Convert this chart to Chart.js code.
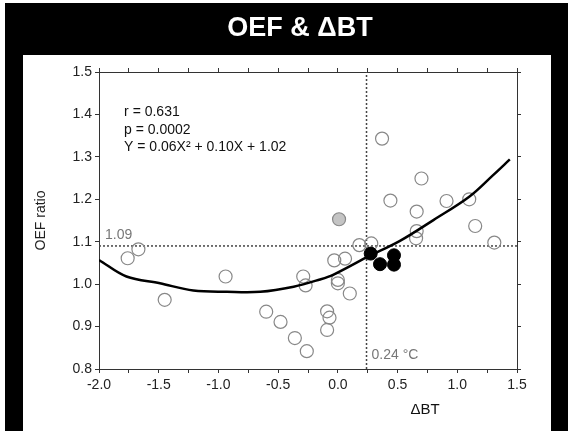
<!DOCTYPE html>
<html>
<head>
<meta charset="utf-8">
<script src="https://cdn.jsdelivr.net/npm/chart.js@4.4.0/dist/chart.umd.min.js"></script>
<style>
  html, body { margin: 0; padding: 0; background: #fff; }
  #c { display: block; }
</style>
</head>
<body>
<canvas id="c" width="568" height="431"></canvas>
<script>
// ---- data ----
const openX = [-1.76, -1.67, -1.45, -0.94, -0.60, -0.48, -0.36, -0.26, -0.29, -0.27, -0.09, -0.07, -0.09, -0.03, 0.06, 0.00, 0.00, 0.10, 0.18, 0.28, 0.37, 0.70, 0.44, 0.91, 1.10, 0.66, 0.66, 0.655, 1.15, 1.31];
const openY = [1.061, 1.082, 0.963, 1.018, 0.935, 0.911, 0.873, 0.842, 1.018, 0.997, 0.936, 0.921, 0.892, 1.056, 1.060, 1.010, 1.002, 0.978, 1.092, 1.096, 1.343, 1.249, 1.197, 1.196, 1.200, 1.171, 1.125, 1.108, 1.137, 1.098];
const hatchX = [0.01];
const hatchY = [1.153];
const filledX = [0.275, 0.353, 0.47, 0.47];
const filledY = [1.072, 1.047, 1.068, 1.046];
const curveX = [-2.0, -1.77, -1.49, -1.21, -0.93, -0.65, -0.37, -0.15, -0.04, 0.24, 0.52, 0.80, 1.10, 1.30, 1.44];
const curveY = [1.057, 1.018, 1.002, 0.985, 0.982, 0.982, 0.994, 1.011, 1.022, 1.063, 1.102, 1.151, 1.206, 1.257, 1.294];
const refY = 1.09;      // horizontal dotted threshold
const refX = 0.24;      // vertical dotted threshold
const xTickLabels = ['-2.0', '-1.5', '-1.0', '-0.5', '0.0', '0.5', '1.0', '1.5'];
const yTickLabels = ['0.8', '0.9', '1.0', '1.1', '1.2', '1.3', '1.4', '1.5'];
const statLines = ['r = 0.631', 'p = 0.0002', 'Y = 0.06X\u00B2 + 0.10X + 1.02'];
const titleText = 'OEF & \u0394BT';
const xTitle = '\u0394BT';
const yTitle = 'OEF ratio';
const refYLabel = '1.09';
const refXLabel = '0.24 \u00B0C';

const zip = (xs, ys) => xs.map((x, i) => ({x: x, y: ys[i]}));
const FONT = '"Liberation Sans", Arial, Helvetica, sans-serif';

const framePlugin = {
  id: 'frame',
  beforeDraw(chart) {
    const ctx = chart.ctx;
    ctx.save();
    ctx.fillStyle = '#fff';
    ctx.fillRect(0, 0, chart.width, chart.height);
    ctx.fillStyle = '#000';
    ctx.fillRect(5, 3, chart.width - 5, chart.height - 3);
    ctx.fillStyle = '#fff';
    ctx.fillRect(23, 55, 528, chart.height - 55);
    ctx.fillStyle = '#fff';
    ctx.font = 'bold 27px ' + FONT;
    ctx.textAlign = 'center';
    ctx.textBaseline = 'middle';
    ctx.fillText(titleText, 300, 29);
    ctx.restore();
  },
  afterDraw(chart) {
    const ctx = chart.ctx;
    const sx = chart.scales.x, sy = chart.scales.y;
    ctx.save();
    // stats
    ctx.fillStyle = '#111';
    ctx.font = '14px ' + FONT;
    ctx.textAlign = 'left';
    ctx.textBaseline = 'middle';
    const lx = sx.getPixelForValue(-1.79);
    const ly0 = sy.getPixelForValue(1.405);
    statLines.forEach((t, i) => ctx.fillText(t, lx, ly0 + i * 17.5));
    // reference labels
    ctx.fillStyle = '#777';
    ctx.fillText(refYLabel, sx.getPixelForValue(-1.95), sy.getPixelForValue(refY) - 11);
    ctx.fillText(refXLabel, sx.getPixelForValue(refX) + 5, sy.getPixelForValue(0.833));
    // x axis title
    ctx.fillStyle = '#111';
    ctx.font = '15px ' + FONT;
    ctx.textAlign = 'center';
    ctx.fillText(xTitle, sx.getPixelForValue(0.73), 410);
    ctx.restore();
  }
};

const gridOpts = {
  display: true,
  drawOnChartArea: false,
  drawTicks: true,
  tickLength: 4,
  color: '#333',
  lineWidth: 1
};
const borderOpts = { display: true, color: '#333', width: 1 };

new Chart(document.getElementById('c'), {
  type: 'scatter',
  data: {
    datasets: [
      {
        label: 'filled',
        data: zip(filledX, filledY),
        pointRadius: 6.5,
        pointBackgroundColor: '#000',
        pointBorderColor: '#000',
        pointBorderWidth: 1,
        order: 0
      },
      {
        label: 'fit',
        type: 'line',
        data: zip(curveX, curveY),
        borderColor: '#000',
        borderWidth: 2.5,
        pointRadius: 0,
        tension: 0.35,
        fill: false,
        order: 1
      },
      {
        label: 'open',
        data: zip(openX, openY),
        pointRadius: 6.5,
        pointBackgroundColor: 'rgba(255,255,255,0)',
        pointBorderColor: '#888',
        pointBorderWidth: 1.2,
        order: 2
      },
      {
        label: 'hatched',
        data: zip(hatchX, hatchY),
        pointRadius: 6.5,
        pointBackgroundColor: '#c4c4c4',
        pointBorderColor: '#888',
        pointBorderWidth: 1.2,
        order: 2
      },
      {
        label: 'refH',
        type: 'line',
        data: [{x: -2.0, y: refY}, {x: 1.5, y: refY}],
        borderColor: '#444',
        borderWidth: 1.5,
        borderDash: [2, 2],
        pointRadius: 0,
        fill: false,
        order: 3
      },
      {
        label: 'refV',
        type: 'line',
        data: [{x: refX, y: 0.8}, {x: refX, y: 1.5}],
        borderColor: '#444',
        borderWidth: 1.5,
        borderDash: [2, 2],
        pointRadius: 0,
        fill: false,
        order: 3
      }
    ]
  },
  options: {
    responsive: false,
    animation: false,
    devicePixelRatio: 1,
    layout: { padding: { left: 23, right: 17, top: 55, bottom: 0 } },
    plugins: {
      legend: { display: false },
      tooltip: { enabled: false },
      title: { display: false }
    },
    scales: {
      x: {
        type: 'linear', position: 'bottom', min: -2.0, max: 1.5,
        grid: gridOpts, border: borderOpts,
        ticks: {
          stepSize: 0.25, autoSkip: false, maxRotation: 0, padding: 4,
          color: '#222', font: { family: FONT, size: 14 },
          callback: (v) => {
            const k = Math.round((v + 2.0) * 2);
            return Math.abs((v + 2.0) * 2 - k) < 1e-6 ? xTickLabels[k] : '';
          }
        },
        afterFit: (s) => { s.height = 62; }
      },
      x2: {
        type: 'linear', position: 'top', min: -2.0, max: 1.5,
        grid: gridOpts, border: borderOpts,
        ticks: { display: false, stepSize: 0.25, autoSkip: false },
        afterFit: (s) => { s.height = 17; }
      },
      y: {
        type: 'linear', position: 'left', min: 0.8, max: 1.5,
        grid: gridOpts, border: borderOpts,
        title: {
          display: true, text: yTitle, color: '#222',
          font: { family: FONT, size: 14 }, padding: { top: 10, bottom: 0 }
        },
        ticks: {
          stepSize: 0.1, autoSkip: false, padding: 3,
          color: '#222', font: { family: FONT, size: 14 },
          callback: (v) => {
            const k = Math.round((v - 0.8) * 10);
            return Math.abs((v - 0.8) * 10 - k) < 1e-6 ? yTickLabels[k] : '';
          }
        },
        afterFit: (s) => { s.width = 76; }
      },
      y2: {
        type: 'linear', position: 'right', min: 0.8, max: 1.5,
        grid: gridOpts, border: borderOpts,
        ticks: { display: false, stepSize: 0.1, autoSkip: false },
        afterFit: (s) => { s.width = 34; }
      }
    }
  },
  plugins: [framePlugin]
});
</script>
</body>
</html>
